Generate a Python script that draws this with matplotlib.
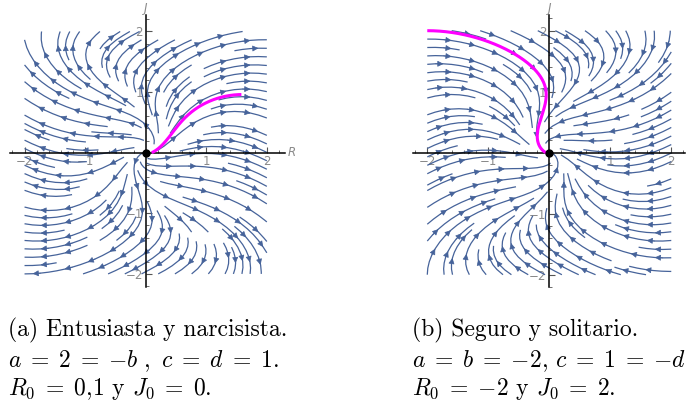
import numpy as np
import matplotlib
matplotlib.use("Agg")
import matplotlib.pyplot as plt
from matplotlib.patches import FancyArrowPatch
from matplotlib.ticker import MultipleLocator, FixedLocator

plt.rcParams["mathtext.fontset"] = "cm"

# model parameters a, b, c, d for each panel
coef_a = [2, -2, 1, 1]
coef_b = [-2, -2, 1, -1]
# initial conditions (R0, J0)
start_a = [0.1, 0.0]
start_b = [-2.0, 2.0]
# integration length of the highlighted orbit
t_end_a = 6.0
t_end_b = 10.0
r_stop_a = 1.58

major_ticks = [-2, -1, 1, 2]
tick_text = ["\u22122", "\u22121", "1", "2"]

captions_a = ["(a) Entusiasta y narcisista.",
              r"$a \;=\; 2 \;=\; {-b}\ ,\ c \;=\; d \;=\; 1.$",
              r"$R_0 \;=\; 0{,}1$ y $J_0 \;=\; 0.$"]
captions_b = ["(b) Seguro y solitario.",
              r"$a \;=\; b \;=\; {-2},\, c \;=\; 1 \;=\; {-d}$",
              r"$R_0 \;=\; {-2}$ y $J_0 \;=\; 2.$"]

blue = "#46639a"
gray = "#8a8a8a"


def field(R, J, coef):
    a, b, c, d = coef
    dR = a * R + b * J * (1 - np.abs(J))
    dJ = c * R * (1 - np.abs(R)) + d * J
    return dR, dJ


def orbit(start, coef, t_end, dt=0.001, rmax=None):
    p = np.array(start, dtype=float)
    pts = [p.copy()]
    f = lambda q: np.array(field(q[0], q[1], coef))
    for _ in range(int(t_end / dt)):
        k1 = f(p)
        k2 = f(p + dt / 2 * k1)
        k3 = f(p + dt / 2 * k2)
        k4 = f(p + dt * k3)
        p = p + dt / 6 * (k1 + 2 * k2 + 2 * k3 + k4)
        pts.append(p.copy())
        if rmax is not None and p[0] >= rmax:
            break
    pts = np.array(pts)
    return pts[:, 0], pts[:, 1]


def px_axes(fig, x0, x1, y0, y1):
    W, H = 692, 403
    return fig.add_axes([x0 / W, (H - y1) / H, (x1 - x0) / W, (y1 - y0) / H])


def add_arrows(ax, sp, step=0.42):
    # rebuild the single streamlines from the segment list, then put
    # several heads along each one (Mathematica style)
    for p in list(ax.patches):
        p.remove()
    segs = sp.lines.get_segments()
    lines, cur = [], None
    for s in segs:
        s = np.asarray(s)
        if cur is not None and np.allclose(s[0], cur[-1]):
            cur.extend(list(s[1:]))
        else:
            if cur is not None:
                lines.append(np.array(cur))
            cur = list(s)
    if cur is not None:
        lines.append(np.array(cur))
    for pts in lines:
        if len(pts) < 2:
            continue
        d = np.hypot(*np.diff(pts, axis=0).T)
        L = np.concatenate([[0], np.cumsum(d)])
        if L[-1] < 0.12:
            continue
        n = max(1, int(L[-1] / step))
        first = (L[-1] - (n - 1) * step) / 2
        for k in range(n):
            s = first + k * step
            i = min(np.searchsorted(L, s), len(pts) - 1)
            i = max(i, 1)
            p0, p1 = pts[i - 1], pts[i]
            ax.add_patch(FancyArrowPatch(p0, p1, arrowstyle="-|>",
                                         mutation_scale=9, color=blue,
                                         lw=0.5, shrinkA=0, shrinkB=0,
                                         zorder=3))


def panel(ax, coef, start, t_end, xlim, ylim, rlabel=True, rmax=None):
    g = np.linspace(-2, 2, 120)
    X, Y = np.meshgrid(g, g)
    U, V = field(X, Y, coef)
    sp = ax.streamplot(g, g, U, V, density=1.0, color=blue, linewidth=0.9,
                       arrowsize=1.0, arrowstyle="-|>")
    add_arrows(ax, sp)
    R, J = orbit(start, coef, t_end, rmax=rmax)
    ax.plot(R, J, color="#ff00ff", lw=2.2, zorder=5, solid_capstyle="butt")
    ax.plot(0, 0, "o", color="black", ms=5, zorder=6)

    ax.set_xlim(*xlim)
    ax.set_ylim(*ylim)
    for s in ["top", "right"]:
        ax.spines[s].set_visible(False)
    for s in ["left", "bottom"]:
        ax.spines[s].set_position(("data", 0))
        ax.spines[s].set_linewidth(1.1)
        ax.spines[s].set_zorder(4)
    ax.xaxis.set_major_locator(FixedLocator(major_ticks))
    ax.yaxis.set_major_locator(FixedLocator(major_ticks))
    ax.set_xticklabels(tick_text)
    ax.set_yticklabels(tick_text)
    ax.xaxis.set_minor_locator(MultipleLocator(0.2))
    ax.yaxis.set_minor_locator(MultipleLocator(0.2))
    ax.tick_params(which="both", direction="in", color="#555555",
                   labelcolor=gray, labelsize=8.5, pad=2)
    ax.tick_params(which="major", length=4, width=0.8)
    ax.tick_params(which="minor", length=2, width=0.6)
    ax.patch.set_visible(False)
    if rlabel:
        ax.text(xlim[1] + 0.04, 0, "R", style="italic", color=gray,
                fontsize=8.5, ha="left", va="center", clip_on=False)
    ax.text(0, ylim[1] + 0.11, "J", style="italic", color=gray,
            fontsize=8.5, ha="center", va="center", clip_on=False)


fig = plt.figure(figsize=(6.92, 4.03), dpi=100)

ax1 = px_axes(fig, 10, 285, 15, 287)
panel(ax1, coef_a, start_a, t_end_a, (-2.24, 2.30), (-2.216, 2.272),
      rmax=r_stop_a)

ax2 = px_axes(fig, 413, 685, 15, 287)
panel(ax2, coef_b, start_b, t_end_b, (-2.234, 2.225), (-2.2016, 2.257),
      rlabel=False)

fs = 17
baselines = [336, 367, 395]
for i, y in enumerate(baselines):
    fig.text(8 / 692, 1 - y / 403, captions_a[i], fontfamily="cmr10",
             fontsize=fs, va="baseline")
    fig.text(412 / 692, 1 - y / 403, captions_b[i], fontfamily="cmr10",
             fontsize=fs, va="baseline")

fig.savefig("out.png", dpi=100)
